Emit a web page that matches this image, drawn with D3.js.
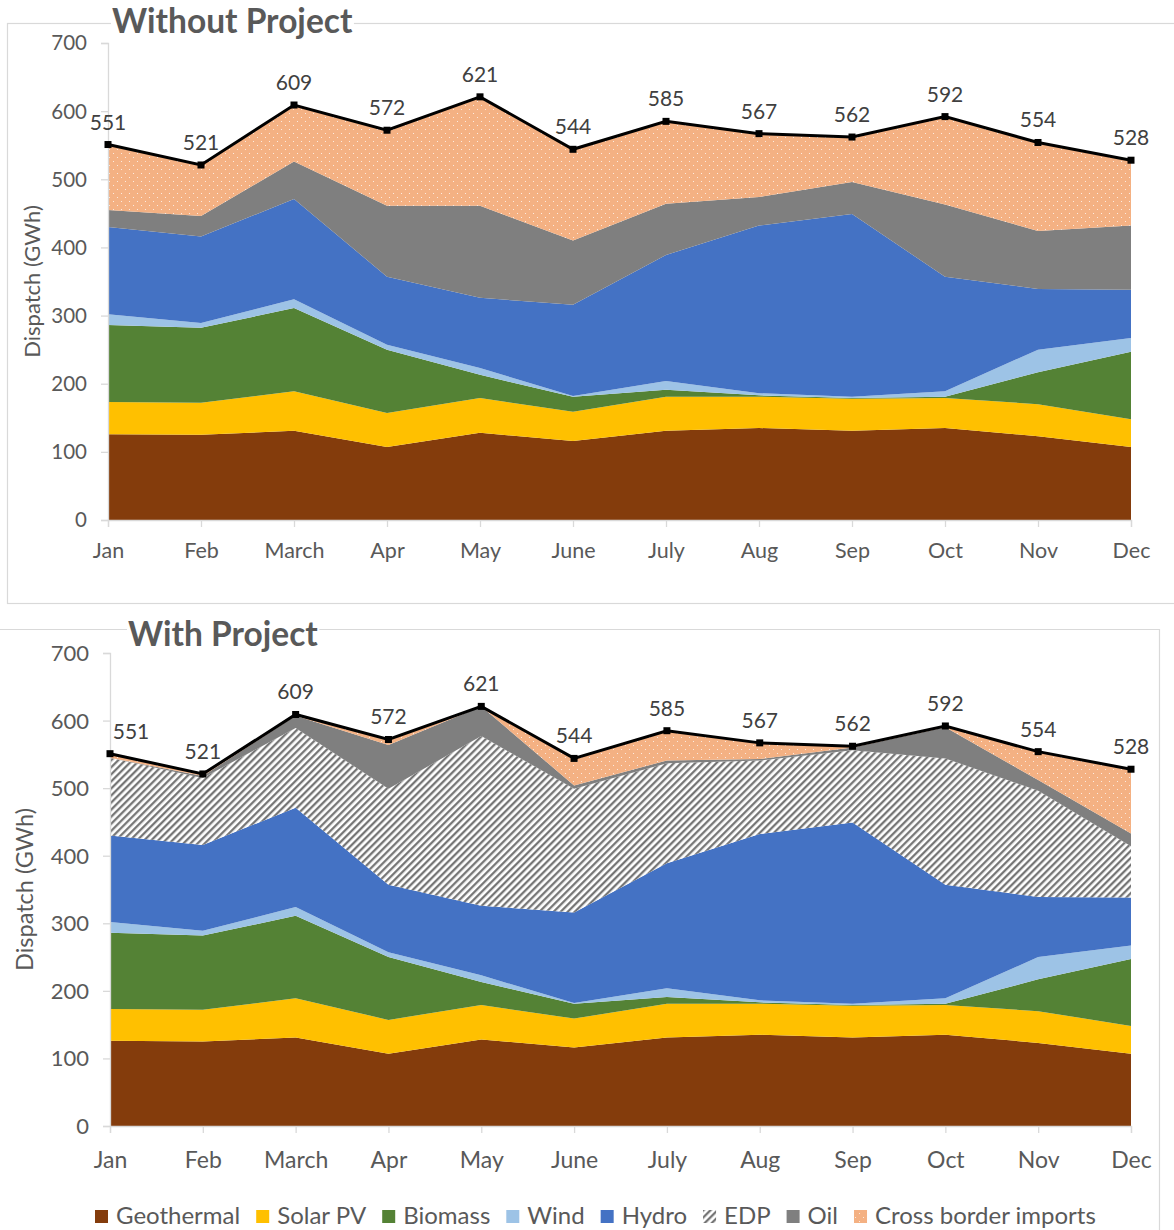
<!DOCTYPE html>
<html>
<head>
<meta charset="utf-8">
<script src="https://cdn.jsdelivr.net/npm/d3@7/dist/d3.min.js"></script>
<style>
  html, body { margin: 0; padding: 0; background: #fff; }
  svg { display: block; font-family: Lato, "Open Sans", sans-serif; }
</style>
</head>
<body>
<svg id="chart" width="1174" height="1230"></svg>
<script>
// Monthly electricity dispatch (GWh) by source
const months = ["Jan", "Feb", "March", "Apr", "May", "June", "July", "Aug", "Sep", "Oct", "Nov", "Dec"];
const yTicks = [0, 100, 200, 300, 400, 500, 600, 700];

const geothermal = [126, 125, 131, 107, 128, 116, 131, 135, 131, 135, 123, 107];
const solarPV    = [47, 47, 58, 50, 51, 43, 50, 46, 47, 44, 47, 41];
const biomass    = [113, 110, 122, 93, 34, 22, 10, 2, 1, 2, 47, 99];
const wind       = [16, 7, 13, 7, 10, 1, 13, 3, 2, 8, 33, 20];
const hydro      = [128, 127, 147, 100, 103, 134, 185, 246, 268, 168, 89, 71];

// Without project: oil and imports fill the gap
const oilWithout     = [25, 30, 55, 104, 135, 94, 75, 42, 47, 106, 85, 94];
const importsWithout = [96, 75, 83, 111, 160, 134, 121, 93, 66, 129, 130, 96];

// With project: EDP displaces most of oil and imports
const edpWith     = [115, 99, 118, 142, 251, 183, 148, 109, 107, 187, 157, 76];
const oilWith     = [0, 3, 18, 65, 44, 5, 4, 2, 4, 46, 16, 19];
const importsWith = [6, 3, 2, 8, 0, 40, 44, 24, 2, 2, 42, 95];

const totals = [551, 521, 609, 572, 621, 544, 585, 567, 562, 592, 554, 528];

const seriesNames = ["Geothermal", "Solar PV", "Biomass", "Wind", "Hydro", "EDP", "Oil", "Cross border imports"];

const svg = d3.select("#chart");
const defs = svg.append("defs");

// Wide upward diagonal hatch for EDP
const hatch = defs.append("pattern")
  .attr("id", "hatch").attr("patternUnits", "userSpaceOnUse")
  .attr("width", 5).attr("height", 5)
  .attr("patternTransform", "rotate(45)");
hatch.append("rect").attr("width", 5).attr("height", 5).attr("fill", "#ffffff");
hatch.append("line").attr("x1", 1.2).attr("y1", 0).attr("x2", 1.2).attr("y2", 5)
  .attr("stroke", "#6f6f6f").attr("stroke-width", 2.2);

// Dotted fill for cross border imports
const dots = defs.append("pattern")
  .attr("id", "dots").attr("patternUnits", "userSpaceOnUse")
  .attr("width", 8).attr("height", 8);
dots.append("rect").attr("width", 8).attr("height", 8).attr("fill", "#F4B183");
dots.append("rect").attr("x", 1).attr("y", 1).attr("width", 1).attr("height", 1).attr("fill", "#ffffff").attr("opacity", 0.75);
dots.append("rect").attr("x", 5).attr("y", 5).attr("width", 1).attr("height", 1).attr("fill", "#ffffff").attr("opacity", 0.75);

const fills = {
  "Geothermal": "#843C0C",
  "Solar PV": "#FFC000",
  "Biomass": "#548235",
  "Wind": "#9DC3E6",
  "Hydro": "#4472C4",
  "EDP": "url(#hatch)",
  "Oil": "#7F7F7F",
  "Cross border imports": "url(#dots)"
};

function buildRows(edp, oil, imports) {
  return months.map((m, i) => ({
    month: m,
    "Geothermal": geothermal[i],
    "Solar PV": solarPV[i],
    "Biomass": biomass[i],
    "Wind": wind[i],
    "Hydro": hydro[i],
    "EDP": edp[i],
    "Oil": oil[i],
    "Cross border imports": imports[i],
    total: totals[i]
  }));
}

const panels = [
  {
    title: "Without Project",
    rows: buildRows(months.map(() => 0), oilWithout, importsWithout),
    keys: seriesNames.filter(k => k !== "EDP"),
    x0: 108, x1: 1131, yTop: 43, yBottom: 520,
    titleX: 112, titleY: 33,
    tickSize: 20.5, monthSize: 21.5, labelSize: 21, axisTitleX: 40, axisTitleSize: 22,
    monthPad: 11, firstLabelDx: 0
  },
  {
    title: "With Project",
    rows: buildRows(edpWith, oilWith, importsWith),
    keys: seriesNames,
    x0: 110, x1: 1131, yTop: 653, yBottom: 1126,
    titleX: 128, titleY: 646,
    tickSize: 22, monthSize: 23, labelSize: 21, axisTitleX: 33, axisTitleSize: 23.5,
    monthPad: 13, firstLabelDx: 21
  }
];

const textColor = "#595959";
const axisColor = "#d9d9d9";

// Panel frames
svg.append("rect").attr("x", 7.5).attr("y", 23.5).attr("width", 1180).attr("height", 580)
  .attr("fill", "none").attr("stroke", axisColor).attr("stroke-width", 1.2);
svg.append("path").attr("d", "M0,629.5 H1159.5 V1232")
  .attr("fill", "none").attr("stroke", axisColor).attr("stroke-width", 1.2);

panels.forEach(p => {
  const g = svg.append("g");
  const x = d3.scalePoint().domain(months).range([p.x0, p.x1]);
  const y = d3.scaleLinear().domain([0, 700]).range([p.yBottom, p.yTop]);

  const stacked = d3.stack().keys(p.keys)(p.rows);
  const area = d3.area()
    .x(d => x(d.data.month))
    .y0(d => y(d[0]))
    .y1(d => y(d[1]));

  g.selectAll("path.layer").data(stacked).join("path")
    .attr("class", "layer")
    .attr("d", area)
    .attr("fill", d => fills[d.key]);

  // Axes
  const yAxis = d3.axisLeft(y).tickValues(yTicks).tickSize(7).tickPadding(14);
  const ya = g.append("g").attr("transform", `translate(${p.x0},0)`).call(yAxis);
  const xAxis = d3.axisBottom(x).tickSize(7).tickPadding(p.monthPad);
  const xa = g.append("g").attr("transform", `translate(0,${p.yBottom})`).call(xAxis);
  [ya, xa].forEach(a => {
    a.select(".domain").attr("stroke", axisColor).attr("stroke-width", 1.3);
    a.selectAll(".tick line").attr("stroke", axisColor).attr("stroke-width", 1.3);
    a.selectAll(".tick text").attr("fill", textColor).style("font-family", "Lato, sans-serif");
  });
  ya.selectAll(".tick text").attr("dy", "0.34em").style("font-size", p.tickSize + "px");
  xa.selectAll(".tick text").attr("dy", "0.95em").style("font-size", p.monthSize + "px");

  // Axis title
  g.append("text")
    .attr("transform", `translate(${p.axisTitleX},${(p.yTop + p.yBottom) / 2}) rotate(-90)`)
    .attr("text-anchor", "middle")
    .attr("fill", textColor)
    .style("font-size", p.axisTitleSize + "px")
    .text("Dispatch (GWh)");

  // Total line with markers and labels
  const line = d3.line().x(d => x(d.month)).y(d => y(d.total));
  g.append("path").datum(p.rows).attr("d", line)
    .attr("fill", "none").attr("stroke", "#000").attr("stroke-width", 3)
    .attr("stroke-linejoin", "miter");
  g.selectAll("rect.marker").data(p.rows).join("rect")
    .attr("class", "marker")
    .attr("x", d => x(d.month) - 3.5).attr("y", d => y(d.total) - 3.5)
    .attr("width", 7).attr("height", 7).attr("fill", "#000");
  g.selectAll("text.total").data(p.rows).join("text")
    .attr("class", "total")
    .attr("x", (d, i) => x(d.month) + (i === 0 ? p.firstLabelDx : 0))
    .attr("y", d => y(d.total) - 15)
    .attr("text-anchor", "middle")
    .attr("fill", "#404040")
    .style("font-size", p.labelSize + "px")
    .text(d => d.total);

  // Title with white backing so the frame line stops at it
  const backing = g.append("rect").attr("fill", "#fff");
  const t = g.append("text")
    .attr("x", p.titleX).attr("y", p.titleY)
    .attr("fill", textColor)
    .style("font-size", "33.5px").style("font-weight", "bold")
    .text(p.title);
  const bb = t.node().getBBox();
  backing.attr("x", bb.x - 1).attr("y", bb.y + 4).attr("width", bb.width + 2).attr("height", bb.height - 8);
});

// Legend
const legend = svg.append("g").attr("transform", "translate(95,1216)");
let lx = 0;
seriesNames.forEach(name => {
  const item = legend.append("g").attr("transform", `translate(${lx},0)`);
  item.append("rect").attr("x", 0).attr("y", -6).attr("width", 13).attr("height", 13)
    .attr("fill", fills[name]);
  const tx = item.append("text").attr("x", 21).attr("y", 0).attr("dy", "0.35em")
    .attr("fill", textColor).style("font-size", "24px").text(name);
  lx += 21 + tx.node().getComputedTextLength() + 16;
});
</script>
</body>
</html>
